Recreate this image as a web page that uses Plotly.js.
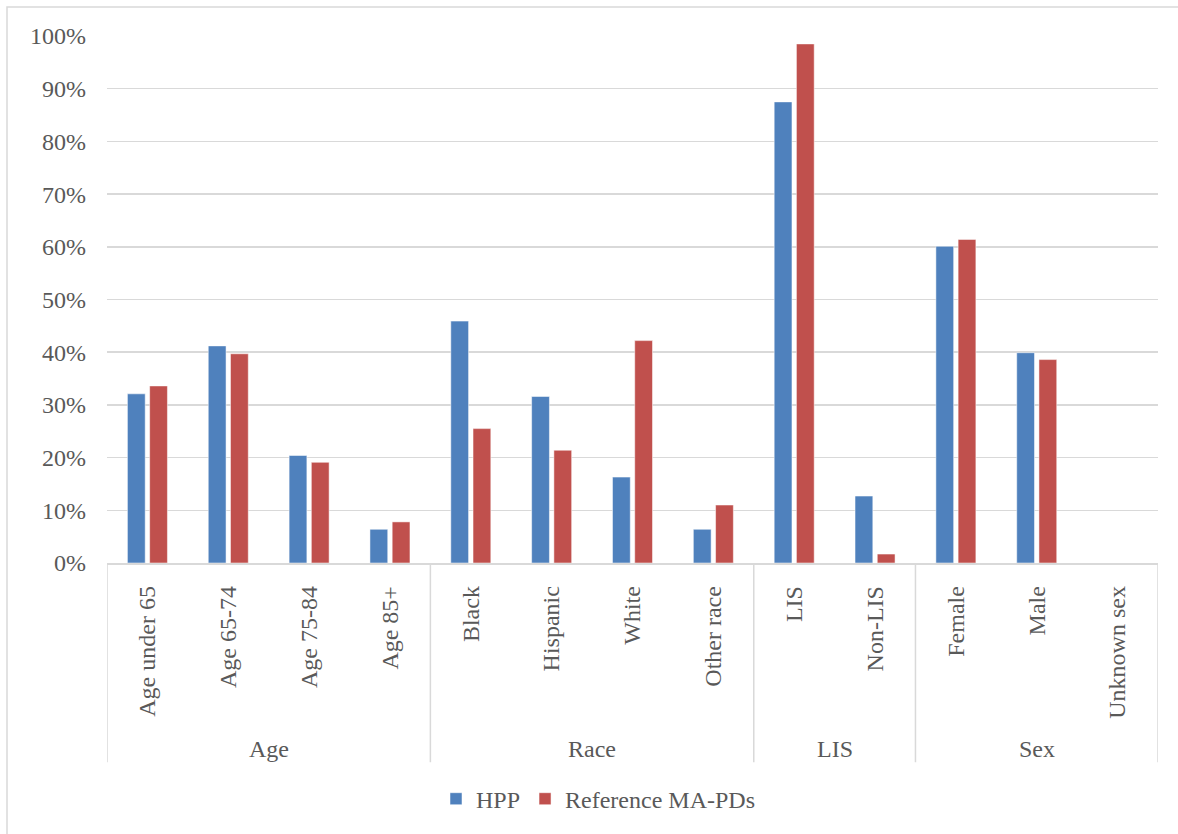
<!DOCTYPE html>
<html>
<head>
<meta charset="utf-8">
<script src="https://cdn.plot.ly/plotly-3.0.1.min.js"></script>
<style>
  html, body { margin: 0; padding: 0; background: #fff; }
  #chart { width: 1178px; height: 834px; }
</style>
</head>
<body>
<div id="chart"></div>
<script>
// Category labels along the x axis
const categories = ["Age under 65", "Age 65-74", "Age 75-84", "Age 85+",
                    "Black", "Hispanic", "White", "Other race",
                    "LIS", "Non-LIS",
                    "Female", "Male", "Unknown sex"];

// Groups: name and the index range of categories they span
const groupNames = ["Age", "Race", "LIS", "Sex"];
const groupStart = [0, 4, 8, 10];
const groupEnd = [3, 7, 9, 12];

// Share of enrollees (%)
const hppValues = [32.1, 41.2, 20.4, 6.4, 45.9, 31.6, 16.3, 6.4, 87.5, 12.7, 60.1, 39.9, 0];
const refValues = [33.6, 39.7, 19.1, 7.8, 25.5, 21.4, 42.2, 11.0, 98.5, 1.7, 61.4, 38.6, 0];

const seriesNames = ["HPP", "Reference MA-PDs"];

const textColor = "#595959";
const lineColor = "#d9d9d9";
const fontFamily = "'Liberation Serif', 'Times New Roman', serif";

const traces = [
  {
    type: "bar", name: seriesNames[0], x: categories, y: hppValues,
    marker: { color: "#4f81bd", line: { color: "rgba(255,255,255,0.5)", width: 1 } },
    hoverinfo: "x+y"
  },
  {
    type: "bar", name: seriesNames[1], x: categories, y: refValues,
    marker: { color: "#c0504d", line: { color: "rgba(255,255,255,0.5)", width: 1 } },
    hoverinfo: "x+y"
  }
];

// Plot area in pixels (used to express the lower label area in paper units)
const plotTop = 36, plotBottom = 565;
const plotH = plotBottom - plotTop;
const toPaperY = px => (plotBottom - px) / plotH;

const shapes = [];
// Group dividers below the axis
const dividerX = [groupStart[0] - 0.5].concat(groupEnd.map(e => e + 0.5));
dividerX.forEach(x => {
  shapes.push({
    type: "line", xref: "x", yref: "paper",
    x0: x, x1: x, y0: 0, y1: toPaperY(765),
    line: { color: lineColor, width: 1.5 }
  });
});
// Chart frame
shapes.push({
  type: "rect", xref: "paper", yref: "paper",
  x0: (7 - 107) / 1051, x1: (1190 - 107) / 1051,
  y0: toPaperY(850), y1: toPaperY(7),
  line: { color: lineColor, width: 1.5 }, fillcolor: "rgba(0,0,0,0)"
});

// Group labels centred under their categories
const annotations = groupNames.map((g, i) => ({
  text: g, xref: "x", yref: "paper",
  x: (groupStart[i] + groupEnd[i]) / 2, y: toPaperY(752),
  xanchor: "center", yanchor: "middle", showarrow: false,
  font: { family: fontFamily, size: 24, color: textColor }
}));

const layout = {
  width: 1178, height: 834,
  margin: { l: 107, r: 20, t: plotTop, b: 834 - plotBottom, pad: 0 },
  paper_bgcolor: "#fff", plot_bgcolor: "#fff",
  font: { family: fontFamily, size: 24, color: textColor },
  barmode: "group", bargap: 0.45, bargroupgap: 0.2,
  showlegend: true,
  legend: {
    orientation: "h", x: (436 - 107) / 1051, xanchor: "left",
    y: toPaperY(802), yanchor: "middle",
    font: { family: fontFamily, size: 24, color: textColor },
    itemwidth: 30, traceorder: "normal"
  },
  xaxis: {
    type: "category", categoryorder: "array", categoryarray: categories,
    range: [-0.5, categories.length - 0.5],
    showline: true, linecolor: lineColor, linewidth: 1.5,
    showgrid: false, zeroline: false, ticks: "",
    tickangle: -90, ticklabelstandoff: 12,
    tickfont: { family: fontFamily, size: 24, color: textColor },
    fixedrange: true
  },
  yaxis: {
    range: [0, 100], dtick: 10, ticksuffix: "%",
    showgrid: true, gridcolor: lineColor, gridwidth: 1.5,
    zeroline: false, showline: false, ticks: "",
    ticklabelstandoff: 20,
    tickfont: { family: fontFamily, size: 24, color: textColor },
    fixedrange: true
  },
  shapes: shapes,
  annotations: annotations
};

Plotly.newPlot("chart", traces, layout, { displayModeBar: false, staticPlot: true });
</script>
</body>
</html>
